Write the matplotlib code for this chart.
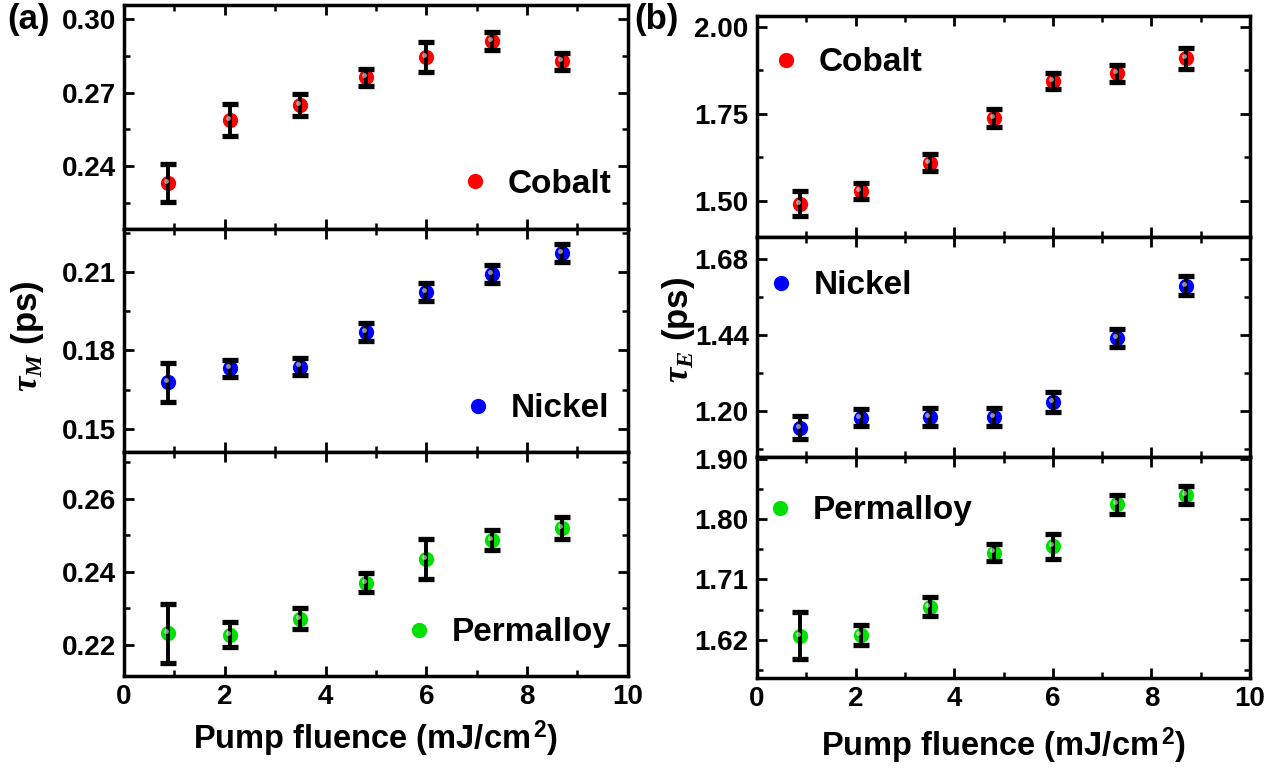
import numpy as np
import matplotlib.pyplot as plt
import matplotlib.transforms as mtransforms
from matplotlib.ticker import MultipleLocator

plt.rcParams['font.family'] = ['Liberation Sans', 'DejaVu Sans']
plt.rcParams['font.weight'] = 'bold'
plt.rcParams['axes.labelweight'] = 'bold'
plt.rcParams['mathtext.fontset'] = 'custom'
plt.rcParams['mathtext.rm'] = 'Liberation Sans:bold'
plt.rcParams['mathtext.it'] = 'Liberation Serif:italic'
plt.rcParams['mathtext.bf'] = 'Liberation Sans:bold'

# pump fluence (mJ/cm^2)
fluence = [0.88, 2.1, 3.5, 4.8, 6.0, 7.3, 8.7]

# demagnetization time tau_M (ps)
tauM_co = [0.233, 0.2588, 0.265, 0.2764, 0.2846, 0.2911, 0.2828]
tauM_co_err = [0.0077, 0.0065, 0.0045, 0.0035, 0.0062, 0.0037, 0.0034]
tauM_ni = [0.1677, 0.1731, 0.1738, 0.1871, 0.2024, 0.2092, 0.2173]
tauM_ni_err = [0.0073, 0.0033, 0.0034, 0.0034, 0.0034, 0.0035, 0.0034]
tauM_py = [0.2231, 0.2227, 0.2271, 0.2369, 0.2434, 0.2487, 0.2519]
tauM_py_err = [0.008, 0.0034, 0.0029, 0.0026, 0.0055, 0.0027, 0.003]

# electron-phonon relaxation time tau_E (ps)
tauE_co = [1.491, 1.528, 1.609, 1.737, 1.844, 1.866, 1.909]
tauE_co_err = [0.036, 0.023, 0.024, 0.026, 0.024, 0.025, 0.031]
tauE_ni = [1.146, 1.178, 1.181, 1.181, 1.228, 1.429, 1.595]
tauE_ni_err = [0.037, 0.026, 0.028, 0.028, 0.031, 0.029, 0.03]
tauE_py = [1.626, 1.627, 1.669, 1.750, 1.759, 1.822, 1.836]
tauE_py_err = [0.035, 0.015, 0.014, 0.013, 0.019, 0.014, 0.013]

materials = ['Cobalt', 'Nickel', 'Permalloy']
colors = ['#ff0000', '#0000ff', '#00e000']

# y ranges and ticks per row
ylims_a = [(0.2144, 0.3059), (0.1409, 0.2267), (0.2114, 0.2727)]
yticks_a = [[0.24, 0.27, 0.30], [0.15, 0.18, 0.21], [0.22, 0.24, 0.26]]
yminor_a = [0.015, 0.015, 0.01]
ylims_b = [(1.397, 2.0305), (1.0523, 1.7507), (1.563, 1.8918)]
yticks_b = [[1.50, 1.75, 2.00], [1.20, 1.44, 1.68], [1.62, 1.71, 1.80, 1.89]]
ytick_labels_b = [['1.50', '1.75', '2.00'], ['1.20', '1.44', '1.68'],
                  ['1.62', '1.71', '1.80', '1.90']]
yminor_b = [0.125, 0.12, 0.045]

# legend anchor (axes fraction) for each row
leg_a = [(0.663, 0.197), (0.669, 0.195), (0.552, 0.193)]
leg_b = [(0.024, 0.787), (0.014, 0.777), (0.012, 0.757)]

fig = plt.figure(figsize=(12.84, 7.69), dpi=100)
gs_a = fig.add_gridspec(3, 1, left=0.0966, right=0.489, top=0.9935, bottom=0.1209, hspace=0)
gs_b = fig.add_gridspec(3, 1, left=0.5896, right=0.9735, top=0.9792, bottom=0.1183, hspace=0)


def style_axis(ax, ylim, yticks, ylabels, yminor, last):
    ax.set_xlim(0, 10)
    ax.set_ylim(*ylim)
    ax.set_yticks(yticks, labels=ylabels)
    ax.yaxis.set_minor_locator(MultipleLocator(yminor))
    ax.set_xticks([0, 2, 4, 6, 8, 10])
    ax.xaxis.set_minor_locator(MultipleLocator(1))
    ax.tick_params(which='both', direction='in', top=True, right=True, labelsize=20, pad=6)
    ax.tick_params(which='major', length=7, width=2)
    ax.tick_params(which='minor', length=4, width=1.8)
    if not last:
        ax.tick_params(labelbottom=False)
    for s in ax.spines.values():
        s.set_linewidth(2.5)


def draw_series(ax, y, yerr, color, name, anchor):
    pts, = ax.plot(fluence, y, 'o', color=color, ms=11, mec=color, mew=0, zorder=3, label=name)
    ax.errorbar(fluence, y, yerr=yerr, fmt='none', ecolor='black', elinewidth=2.8,
                capsize=5.5, capthick=3.8, zorder=4)
    # small highlight to give the balls some shine
    shine = mtransforms.offset_copy(ax.transData, fig=fig, x=-1.5, y=1.5, units='points')
    ax.plot(fluence, y, 'o', color='white', alpha=0.55, ms=3.5, mew=0, zorder=5, transform=shine)
    ax.legend(handles=[pts], loc='center left', bbox_to_anchor=anchor, frameon=False,
              handlelength=1.0, handletextpad=0.5, borderpad=0, borderaxespad=0,
              numpoints=1, prop={'size': 24, 'weight': 'bold'})


series_a = [(tauM_co, tauM_co_err), (tauM_ni, tauM_ni_err), (tauM_py, tauM_py_err)]
series_b = [(tauE_co, tauE_co_err), (tauE_ni, tauE_ni_err), (tauE_py, tauE_py_err)]

axes_a = []
axes_b = []
for i in range(3):
    ax = fig.add_subplot(gs_a[i])
    style_axis(ax, ylims_a[i], yticks_a[i], ['%.2f' % t for t in yticks_a[i]], yminor_a[i], i == 2)
    draw_series(ax, series_a[i][0], series_a[i][1], colors[i], materials[i], leg_a[i])
    axes_a.append(ax)

    ax = fig.add_subplot(gs_b[i])
    style_axis(ax, ylims_b[i], yticks_b[i], ytick_labels_b[i], yminor_b[i], i == 2)
    draw_series(ax, series_b[i][0], series_b[i][1], colors[i], materials[i], leg_b[i])
    axes_b.append(ax)

axes_a[2].set_xlabel('Pump fluence (mJ/cm$^{\\,2}$)', fontsize=23.5, labelpad=6)
axes_b[2].set_xlabel('Pump fluence (mJ/cm$^{\\,2}$)', fontsize=23.5, labelpad=10)

axes_a[1].set_ylabel(r'$\tau_{M}$ (ps)', fontsize=25)
axes_a[1].yaxis.set_label_coords(-0.155, 0.52)
axes_b[1].set_ylabel(r'$\tau_{E}$ (ps)', fontsize=25)
axes_b[1].yaxis.set_label_coords(-0.122, 0.577)

fig.text(0.006, 0.974, '(a)', fontsize=25, weight='bold', va='center')
fig.text(0.494, 0.974, '(b)', fontsize=25, weight='bold', va='center')

fig.savefig('out.png', dpi=100)
